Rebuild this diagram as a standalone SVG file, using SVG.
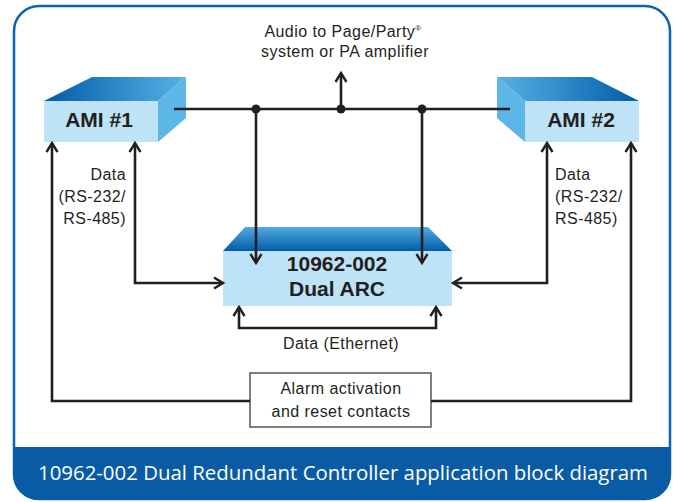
<svg xmlns="http://www.w3.org/2000/svg" width="673" height="502" viewBox="0 0 673 502">
<defs>
<linearGradient id="g1" x1="0" y1="0" x2="1" y2="0"><stop offset="0" stop-color="#005ca9"/><stop offset="1" stop-color="#58b2e4"/></linearGradient>
<linearGradient id="g2" x1="0" y1="0" x2="1" y2="0"><stop offset="0" stop-color="#58b2e4"/><stop offset="1" stop-color="#005ca9"/></linearGradient>
<linearGradient id="g3" x1="0" y1="0" x2="0" y2="1"><stop offset="0" stop-color="#52ace0"/><stop offset="1" stop-color="#005ca9"/></linearGradient>
<marker id="ah" markerUnits="userSpaceOnUse" markerWidth="20" markerHeight="20" viewBox="-10 -10 20 20" refX="0" refY="0" orient="auto-start-reverse">
<path d="M-9,-5.5 L0,0 L-9,5.5" fill="none" stroke="#231f20" stroke-width="2.4" stroke-linejoin="miter"/>
</marker>
<style>
.ln{fill:none;stroke:#231f20;stroke-width:2.6}
.front{fill:#bee3f6}
.side{fill:#5cb6e8}
.t{font-family:"Liberation Sans",Arial,sans-serif;fill:#231f20}
.b{font-weight:bold;font-size:21px}
.s{font-size:16px;letter-spacing:0.45px}
</style>
</defs>
<rect x="14" y="6" width="656" height="493" rx="25" fill="#fff" stroke="#0f62ae" stroke-width="2.5"/>
<path d="M13,447 H671 V474 A26,26 0 0 1 645,500 H39 A26,26 0 0 1 13,474 Z" fill="#0a5ba6"/>
<text x="343" y="480" text-anchor="middle" font-family="'Open Sans','Liberation Sans',Arial,sans-serif" font-size="20" fill="#fff" textLength="610" lengthAdjust="spacingAndGlyphs">10962-002 Dual Redundant Controller application block diagram</text>

<g id="ami1">
<polygon points="44,101 92,77 186,77 158,101" fill="url(#g1)"/>
<polygon class="side" points="158,101 186,77 186,118 158,142"/>
<rect class="front" x="44" y="101" width="114" height="41"/>
<text class="t b" x="99" y="127" text-anchor="middle">AMI #1</text>
</g>
<g id="ami2">
<polygon points="497,77 592,77 639,101 525,101" fill="url(#g2)"/>
<polygon class="side" points="497,77 525,101 525,142 497,118"/>
<rect class="front" x="525" y="101" width="114" height="41"/>
<text class="t b" x="581" y="127" text-anchor="middle">AMI #2</text>
</g>
<g id="arc">
<polygon points="223,251 245,227 428,227 452,251" fill="url(#g3)"/>
<rect class="front" x="223" y="251" width="229" height="55"/>
<text class="t" x="337" y="271" text-anchor="middle" font-weight="bold" font-size="21">10962-002</text>
<text class="t" x="337" y="296" text-anchor="middle" font-weight="bold" font-size="21">Dual ARC</text>
</g>
<g id="alarm">
<rect x="250" y="373" width="181" height="54" fill="#fff" stroke="#555" stroke-width="1.5"/>
<text class="t s" x="341" y="394" text-anchor="middle">Alarm activation</text>
<text class="t s" x="341" y="417" text-anchor="middle">and reset contacts</text>
</g>

<g id="connectors">
<path class="ln" d="M174,109 H510"/>
<path class="ln" d="M341,109 V73" marker-end="url(#ah)"/>
<path class="ln" d="M256,109 V263" marker-end="url(#ah)"/>
<path class="ln" d="M422,109 V263" marker-end="url(#ah)"/>
<path class="ln" d="M223,283 H135 V143" marker-start="url(#ah)" marker-end="url(#ah)"/>
<path class="ln" d="M453,283 H547 V143" marker-start="url(#ah)" marker-end="url(#ah)"/>
<path class="ln" d="M239,307 V328 H436 V307" marker-start="url(#ah)" marker-end="url(#ah)"/>
<path class="ln" d="M250,401 H52 V143" marker-end="url(#ah)"/>
<path class="ln" d="M431,401 H631 V143" marker-end="url(#ah)"/>
<circle cx="256" cy="109" r="4.5" fill="#231f20"/>
<circle cx="341" cy="109" r="4.5" fill="#231f20"/>
<circle cx="422" cy="109" r="4.5" fill="#231f20"/>
</g>

<g id="labels">
<text class="t s" x="343" y="37" text-anchor="middle">Audio to Page/Party<tspan font-size="8" dy="-6">®</tspan></text>
<text class="t s" x="345" y="57" text-anchor="middle">system or PA amplifier</text>
<text class="t s" x="126" y="180" text-anchor="end">Data</text>
<text class="t s" x="126" y="202" text-anchor="end">(RS-232/</text>
<text class="t s" x="126" y="224" text-anchor="end">RS-485)</text>
<text class="t s" x="555" y="180">Data</text>
<text class="t s" x="555" y="202">(RS-232/</text>
<text class="t s" x="555" y="224">RS-485)</text>
<text class="t s" x="341" y="349" text-anchor="middle">Data (Ethernet)</text>
</g>
</svg>
